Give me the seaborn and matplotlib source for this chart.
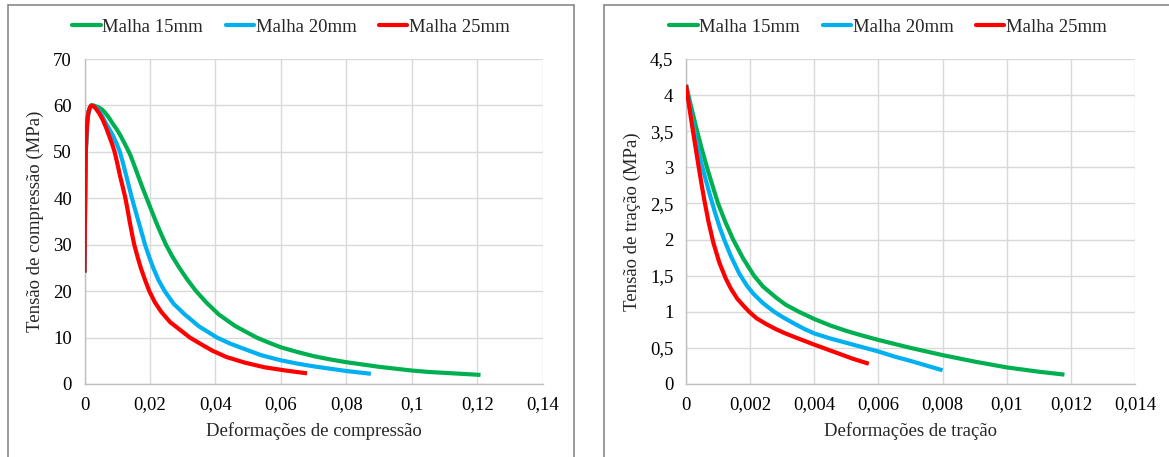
import matplotlib
matplotlib.use("Agg")
import matplotlib.pyplot as plt
from matplotlib.lines import Line2D
import seaborn as sns
import pandas as pd

# ---------------- data ----------------
series_names = ["Malha 15mm", "Malha 20mm", "Malha 25mm"]
series_colors = ["#00B050", "#00B0F0", "#FF0000"]

# compression (strain, stress in MPa)
comp_strain_15 = [0, 0.0001, 0.0002, 0.0003, 0.0004, 0.0006, 0.0008, 0.0010, 0.0013, 0.0017, 0.0021,
                  0.0028, 0.0035, 0.0043, 0.0052, 0.0061, 0.0070, 0.0078, 0.0087, 0.0098, 0.0110,
                  0.0124, 0.0139, 0.0151, 0.0163, 0.0176, 0.0190, 0.0204, 0.0218, 0.0233, 0.0249,
                  0.0268, 0.0290, 0.0314, 0.0341, 0.0373, 0.0410, 0.0460, 0.0526, 0.0560, 0.0600,
                  0.0650, 0.0700, 0.0750, 0.0800, 0.0850, 0.0900, 0.0950, 0.1000, 0.1050, 0.1100,
                  0.1150, 0.1200, 0.1210]
comp_stress_15 = [24, 33, 40, 45.5, 50, 53.5, 56, 57.5, 58.8, 59.6, 60,
                  60, 59.8, 59.6, 59.2, 58.6, 57.8, 57, 56, 54.9, 53.5,
                  51.6, 49.5, 47.3, 45, 42.5, 40, 37.5, 35, 32.5, 30,
                  27.5, 25, 22.5, 20, 17.5, 15, 12.5, 10, 9, 7.9,
                  6.9, 6.0, 5.3, 4.7, 4.2, 3.7, 3.3, 2.9, 2.6, 2.4,
                  2.2, 2.0, 1.95]

comp_strain_20 = [0, 0.0001, 0.0002, 0.0003, 0.0004, 0.0006, 0.0008, 0.0010, 0.0013, 0.0017, 0.0021,
                  0.0028, 0.0035, 0.0043, 0.0050, 0.0057, 0.0064, 0.0075, 0.0087, 0.0098, 0.0108,
                  0.0118, 0.0127, 0.0136, 0.0145, 0.0155, 0.0165, 0.0175, 0.0185, 0.0197, 0.0210,
                  0.0226, 0.0245, 0.0272, 0.0306, 0.0350, 0.0405, 0.0445, 0.0490, 0.0540, 0.0600,
                  0.0650, 0.0700, 0.0750, 0.0800, 0.0875]
comp_stress_20 = [24, 33, 40, 45.5, 50, 53.5, 56, 57.5, 58.8, 59.6, 60,
                  59.8, 59.5, 59, 58.2, 57.3, 56.3, 55, 53.5, 51.8, 50,
                  47.5, 45, 42.5, 40, 37.5, 35, 32.5, 30, 27.5, 25,
                  22.4, 20, 17.3, 15, 12.4, 10, 8.7, 7.5, 6.2, 5.1,
                  4.4, 3.8, 3.3, 2.8, 2.2]

comp_strain_25 = [0, 0.0001, 0.0002, 0.0003, 0.0004, 0.0006, 0.0008, 0.0010, 0.0013, 0.0017, 0.0021,
                  0.0028, 0.0035, 0.0045, 0.0055, 0.0065, 0.0075, 0.0084, 0.0092, 0.0100, 0.0108,
                  0.0117, 0.0125, 0.0132, 0.0138, 0.0145, 0.0152, 0.0162, 0.0172, 0.0185, 0.0198,
                  0.0215, 0.0235, 0.0262, 0.0295, 0.0322, 0.0353, 0.0390, 0.0434, 0.0490, 0.0550,
                  0.0615, 0.0680]
comp_stress_25 = [24, 33, 40, 45.5, 50, 53.5, 56, 57.5, 58.8, 59.6, 60,
                  59.8, 59.3, 58.3, 57, 55.4, 53.5, 51.8, 50, 47.6, 45,
                  42.4, 40, 37.4, 35, 32.4, 30, 27.4, 25, 22.4, 20,
                  17.6, 15.5, 13.3, 11.5, 10, 8.7, 7.2, 5.8, 4.6, 3.6,
                  2.9, 2.3]

# tension (strain, stress in MPa)
tens_strain_15 = [0, 0.000165, 0.00033, 0.000495, 0.00066, 0.00083, 0.0010, 0.00122, 0.00147, 0.00178,
                  0.00212, 0.0024, 0.0028, 0.0031, 0.00352, 0.0040, 0.0045, 0.0050, 0.0055, 0.0060,
                  0.0065, 0.0070, 0.0075, 0.0080, 0.0085, 0.0090, 0.0095, 0.0100, 0.0105, 0.0110,
                  0.0114, 0.0118]
tens_stress_15 = [4.14, 3.83, 3.53, 3.25, 2.99, 2.74, 2.5, 2.25, 2.0, 1.74,
                  1.5, 1.35, 1.2, 1.1, 1.0, 0.9, 0.81, 0.735, 0.67, 0.61,
                  0.555, 0.50, 0.45, 0.40, 0.355, 0.31, 0.27, 0.23, 0.20, 0.17,
                  0.15, 0.13]

tens_strain_20 = [0, 0.0001, 0.0002, 0.0003, 0.0004, 0.0005, 0.00062, 0.00075, 0.0009, 0.00105,
                  0.00119, 0.0014, 0.00166, 0.0019, 0.0021, 0.0024, 0.00275, 0.0030, 0.0034, 0.0037,
                  0.0040, 0.0045, 0.0050, 0.0055, 0.0060, 0.0065, 0.0070, 0.0075, 0.0080]
tens_stress_20 = [4.14, 3.88, 3.63, 3.41, 3.2, 3.02, 2.82, 2.61, 2.38, 2.17,
                  2.0, 1.77, 1.53, 1.36, 1.25, 1.12, 1.0, 0.93, 0.83, 0.76,
                  0.70, 0.63, 0.57, 0.51, 0.45, 0.38, 0.32, 0.255, 0.19]

tens_strain_25 = [0, 0.0001, 0.0002, 0.0003, 0.00039, 0.00048, 0.00057, 0.0007, 0.00085, 0.00104,
                  0.00124, 0.0014, 0.0016, 0.0018, 0.00197, 0.0022, 0.0025, 0.0028, 0.0031, 0.0035,
                  0.0040, 0.0044, 0.0048, 0.0052, 0.0057]
tens_stress_25 = [4.14, 3.84, 3.55, 3.27, 3.02, 2.78, 2.55, 2.25, 1.96, 1.68,
                  1.46, 1.32, 1.18, 1.08, 1.0, 0.91, 0.83, 0.76, 0.70, 0.63,
                  0.545, 0.48, 0.415, 0.35, 0.28]

comp_xticks = [0, 0.02, 0.04, 0.06, 0.08, 0.1, 0.12, 0.14]
comp_xticklabels = ["0", "0,02", "0,04", "0,06", "0,08", "0,1", "0,12", "0,14"]
comp_yticks = [0, 10, 20, 30, 40, 50, 60, 70]
comp_yticklabels = ["0", "10", "20", "30", "40", "50", "60", "70"]

tens_xticks = [0, 0.002, 0.004, 0.006, 0.008, 0.01, 0.012, 0.014]
tens_xticklabels = ["0", "0,002", "0,004", "0,006", "0,008", "0,01", "0,012", "0,014"]
tens_yticks = [0, 0.5, 1, 1.5, 2, 2.5, 3, 3.5, 4, 4.5]
tens_yticklabels = ["0", "0,5", "1", "1,5", "2", "2,5", "3", "3,5", "4", "4,5"]

comp_xlabel = "Deformações de compressão"
comp_ylabel = "Tensão de compressão (MPa)"
tens_xlabel = "Deformações de tração"
tens_ylabel = "Tensão de tração (MPa)"


def build_df(strains, stresses):
    frames = []
    for name, xs, ys in zip(series_names, strains, stresses):
        frames.append(pd.DataFrame({"strain": xs, "stress": ys, "serie": name}))
    return pd.concat(frames, ignore_index=True)


df_comp = build_df([comp_strain_15, comp_strain_20, comp_strain_25],
                   [comp_stress_15, comp_stress_20, comp_stress_25])
df_tens = build_df([tens_strain_15, tens_strain_20, tens_strain_25],
                   [tens_stress_15, tens_stress_20, tens_stress_25])

# ---------------- style ----------------
sns.set_style("white")
plt.rcParams["font.family"] = ["Liberation Serif", "DejaVu Serif"]
FS = 13.5

W, H = 1169, 457
fig = plt.figure(figsize=(W / 100, H / 100), dpi=100)
fig.patch.set_facecolor("white")


def px_rect(x0, x1, ytop, ybot):
    return [x0 / W, (H - ybot) / H, (x1 - x0) / W, (ybot - ytop) / H]


ax1 = fig.add_axes(px_rect(84.5, 542.7, 59, 384))
ax2 = fig.add_axes(px_rect(686, 1135, 59, 384))

palette = dict(zip(series_names, series_colors))


def draw(ax, df, xticks, xtl, yticks, ytl, xlabel, ylabel, ylabel_x):
    sns.lineplot(data=df, x="strain", y="stress", hue="serie", palette=palette,
                 sort=False, estimator=None, linewidth=3.0, ax=ax, legend=False,
                 solid_capstyle="butt", solid_joinstyle="round", zorder=3)
    ax.set_xlim(xticks[0], xticks[-1])
    ax.set_ylim(yticks[0], yticks[-1])
    ax.set_xticks(xticks)
    ax.set_xticklabels(xtl)
    ax.set_yticks(yticks)
    ax.set_yticklabels(ytl)
    ax.tick_params(axis="both", length=0, labelsize=FS, colors="black")
    ax.tick_params(axis="x", pad=9)
    ax.tick_params(axis="y", pad=9)
    ax.grid(True, color="#D9D9D9", linewidth=1.0, zorder=0)
    for s in ["top", "right"]:
        ax.spines[s].set_visible(False)
    for s in ["left", "bottom"]:
        ax.spines[s].set_color("#BFBFBF")
        ax.spines[s].set_linewidth(1.0)
    ax.set_xlabel(xlabel, fontsize=FS, labelpad=6)
    ax.set_ylabel(ylabel, fontsize=FS)
    ax.yaxis.set_label_coords(ylabel_x, 0.5)
    ax.set_facecolor("white")


draw(ax1, df_comp, comp_xticks, comp_xticklabels, comp_yticks, comp_yticklabels,
     comp_xlabel, comp_ylabel, (44 - 84.5) / 458.2)
draw(ax2, df_tens, tens_xticks, tens_xticklabels, tens_yticks, tens_yticklabels,
     tens_xlabel, tens_ylabel, (641 - 686) / 449)

# legends
handles = [Line2D([0], [0], color=c, lw=3.0) for c in series_colors]
for cx in (291, 888):
    fig.legend(handles, series_names, loc="center", ncol=3,
               bbox_to_anchor=(cx / W, 1 - 27 / H), frameon=False, fontsize=FS,
               handlelength=1.5, handletextpad=0.1, columnspacing=1.2,
               borderaxespad=0, borderpad=0)

# chart-area borders
border_kw = dict(color="#7F7F7F", linewidth=1.1, transform=fig.transFigure)
fy = lambda y: 1 - y / H
fx = lambda x: x / W
fig.add_artist(Line2D([fx(8), fx(8)], [fy(5), fy(460)], **border_kw))
fig.add_artist(Line2D([fx(8), fx(574)], [fy(5), fy(5)], **border_kw))
fig.add_artist(Line2D([fx(574), fx(574)], [fy(5), fy(460)], **border_kw))
fig.add_artist(Line2D([fx(604), fx(604)], [fy(5), fy(460)], **border_kw))
fig.add_artist(Line2D([fx(604), fx(1175)], [fy(5), fy(5)], **border_kw))

fig.savefig("out.png", dpi=100, facecolor="white")
